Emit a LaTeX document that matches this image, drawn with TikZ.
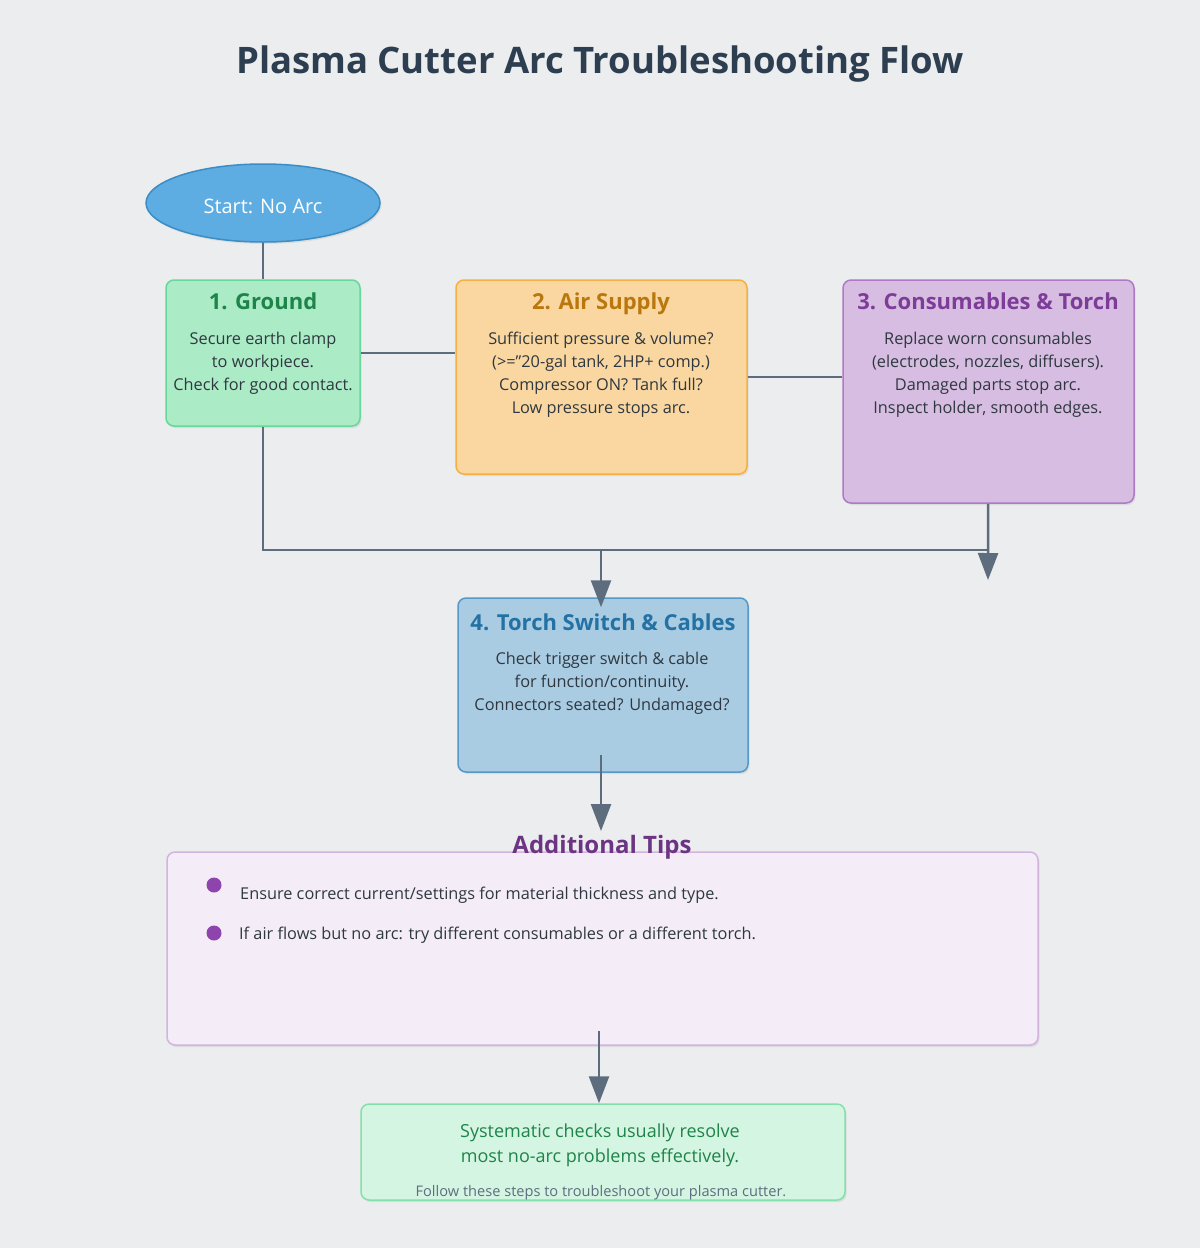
\documentclass[tikz,border=0pt]{standalone}
\usepackage{fontspec}
\setmainfont{Open Sans}
\usepackage{xcolor}
\usetikzlibrary{arrows.meta}
\usetikzlibrary{shapes.geometric}
\usetikzlibrary{shadows}

\definecolor{bgc}{RGB}{235,237,239}
\definecolor{titlec}{HTML}{2C3E50}
\definecolor{bodyc}{HTML}{2F3840}
\definecolor{linec}{HTML}{5D6D7E}
\definecolor{startfill}{HTML}{5DADE2}
\definecolor{startdraw}{HTML}{3C8DC5}
\definecolor{gndfill}{HTML}{ABEBC6}
\definecolor{gnddraw}{HTML}{6BD69A}
\definecolor{gndtext}{HTML}{1E8449}
\definecolor{airfill}{HTML}{FAD7A0}
\definecolor{airdraw}{HTML}{F5B041}
\definecolor{airtext}{HTML}{B9770E}
\definecolor{consfill}{HTML}{D7BDE2}
\definecolor{consdraw}{HTML}{AF7AC5}
\definecolor{constext}{HTML}{7D3C98}
\definecolor{torchfill}{HTML}{A9CCE3}
\definecolor{torchdraw}{HTML}{5499C7}
\definecolor{torchtext}{HTML}{2471A3}
\definecolor{tipsfill}{HTML}{F4ECF7}
\definecolor{tipsdraw}{HTML}{D2B4DE}
\definecolor{tipstext}{HTML}{6C3483}
\definecolor{bulletc}{HTML}{8E44AD}
\definecolor{sumfill}{HTML}{D5F5E3}
\definecolor{sumdraw}{HTML}{82E0AA}

\begin{document}
\begin{tikzpicture}[x=1pt,y=-1pt,
    box/.style={draw,line width=1.5pt,rounded corners=8pt,inner sep=0pt,
      drop shadow={opacity=0.15,shadow xshift=1.5pt,shadow yshift=-2pt}},
    head/.style={font=\fontsize{22}{26}\selectfont\bfseries,inner sep=0pt,anchor=base},
    body/.style={font=\fontsize{16.3}{23}\selectfont,text=bodyc,align=center,inner sep=0pt},
    link/.style={color=linec,line width=2.5pt},
    flow/.style={link,-{Triangle[length=27pt,width=20pt]}}]
  % page
  \fill[bgc] (0,0) rectangle (1200,1248);
  \useasboundingbox (0,0) rectangle (1200,1248);
  \node[font=\fontsize{36.5}{42}\selectfont\bfseries,text=titlec] (title) at (600,64)
    {Plasma Cutter Arc Troubleshooting Flow};

  % start
  \node[ellipse,draw=startdraw,fill=startfill,line width=1.5pt,minimum width=234pt,
    minimum height=78pt,inner sep=0pt,
    drop shadow={opacity=0.15,shadow xshift=1.5pt,shadow yshift=-2pt}]
    (start) at (263,203) {};
  \node[text=white,font=\fontsize{20}{24}\selectfont,inner sep=0pt] (starttext) at (263,206)
    {Start: No Arc};

  % the four checks
  \node[box,draw=gnddraw,fill=gndfill,minimum width=194pt,minimum height=146pt]
    (ground) at (263,353) {};
  \node[head,text=gndtext] (groundhead) at (263,309) {1. Ground};
  \node[body] (groundbody) at (263,363)
    {Secure earth clamp\\to workpiece.\\Check for good contact.};

  \node[box,draw=airdraw,fill=airfill,minimum width=291pt,minimum height=194pt]
    (air) at (601.5,377) {};
  \node[head,text=airtext] (airhead) at (601,309) {2. Air Supply};
  \node[body] (airbody) at (601,374.5)
    {Sufficient pressure \& volume?\\(>="20-gal tank, 2HP+ comp.)\\Compressor ON? Tank full?\\Low pressure stops arc.};

  \node[box,draw=consdraw,fill=consfill,minimum width=291pt,minimum height=223pt]
    (cons) at (988.5,391.5) {};
  \node[head,text=constext] (conshead) at (988,309) {3. Consumables \& Torch};
  \node[body] (consbody) at (988,374.5)
    {Replace worn consumables\\(electrodes, nozzles, diffusers).\\Damaged parts stop arc.\\Inspect holder, smooth edges.};

  \node[box,draw=torchdraw,fill=torchfill,minimum width=290pt,minimum height=174pt]
    (torch) at (603,685) {};
  \node[head,text=torchtext] (torchhead) at (603,630) {4. Torch Switch \& Cables};
  \node[body] (torchbody) at (602,683)
    {Check trigger switch \& cable\\for function/continuity.\\Connectors seated? Undamaged?};

  % tips
  \node[box,draw=tipsdraw,fill=tipsfill,minimum width=871pt,minimum height=193pt]
    (tips) at (602.5,948.5) {};
  \node[font=\fontsize{24}{28}\selectfont\bfseries,text=tipstext,inner sep=0pt,anchor=base]
    (tipshead) at (602,853) {Additional Tips};
  \fill[bulletc] (214,885) circle (7.5pt) coordinate (b1);
  \fill[bulletc] (214,933) circle (7.5pt) coordinate (b2);
  \node[body,anchor=west] (tip1) at (240,895)
    {Ensure correct current/settings for material thickness and type.};
  \node[body,anchor=west] (tip2) at (239,935)
    {If air flows but no arc: try different consumables or a different torch.};

  % summary
  \node[box,draw=sumdraw,fill=sumfill,minimum width=484pt,minimum height=96pt]
    (summary) at (603,1152) {};
  \node[font=\fontsize{18}{25}\selectfont,text=gndtext,align=center,inner sep=0pt]
    (sumtext) at (600,1145) {Systematic checks usually resolve\\most no-arc problems effectively.};
  \node[font=\fontsize{14.6}{17}\selectfont,text=linec,inner sep=0pt]
    (sumnote) at (601,1193) {Follow these steps to troubleshoot your plasma cutter.};

  % connectors
  \coordinate (jr) at (988,550);
  \coordinate (jm) at (601,550);
  \coordinate (consend) at (988,580);
  \coordinate (torchout) at (601,755);
  \coordinate (tipsin) at (601,831);
  \coordinate (tipsout) at (599,1031);
  \draw[link] (start) -- (ground);
  \draw[link] (ground.east) -- (ground.east -| air.west);
  \draw[link] (air.east) -- (air.east -| cons.west);
  \draw[link] (ground) |- (jr);
  \draw[flow] (cons) -- (consend);
  \draw[flow,shorten >=-10pt] (jm) -- (jm |- torch.north);
  \draw[flow] (torchout) -- (tipsin);
  \draw[flow] (tipsout) -- (tipsout |- summary.north);
\end{tikzpicture}
\end{document}
